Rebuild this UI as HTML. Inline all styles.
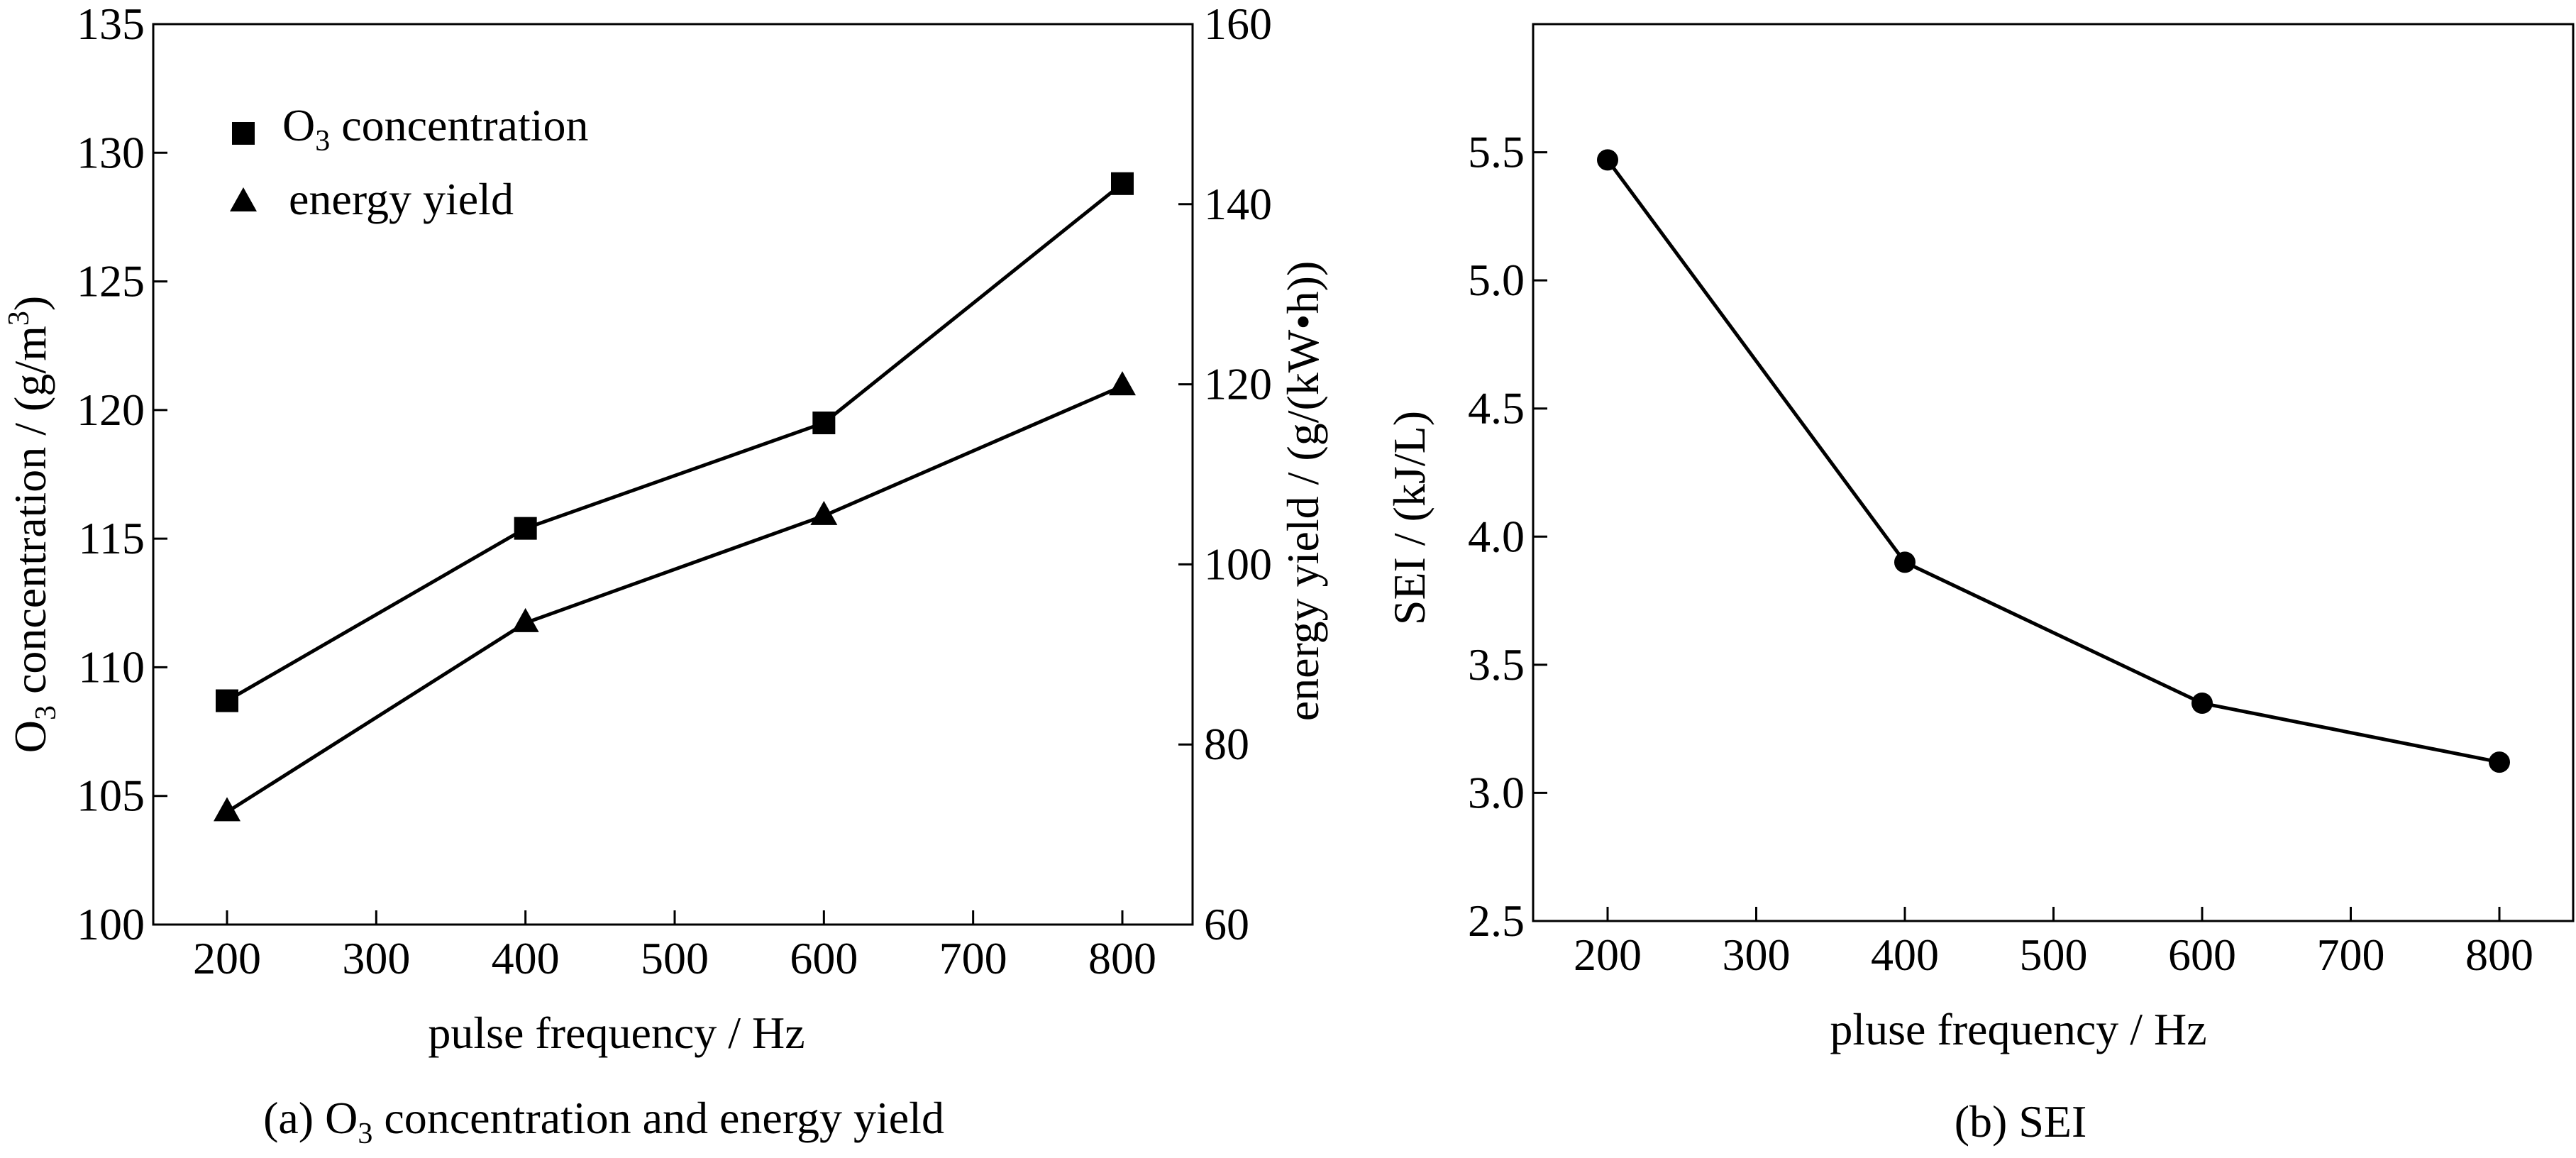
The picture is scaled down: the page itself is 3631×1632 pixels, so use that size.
<!DOCTYPE html>
<html><head><meta charset="utf-8"><style>
html,body{margin:0;padding:0;background:#fff;}
svg{display:block;font-family:"Liberation Serif",serif;}
</style></head><body>
<svg id="svg" width="3631" height="1632" viewBox="0 0 3631 1632">
<g id="a"></g>
<g id="b"></g>
</svg>
<script>
const freqs = [200, 400, 600, 800];
const o3Values = [108.7, 115.4, 119.5, 128.8];
const yieldValues = [72.5, 93.5, 105.4, 119.8];
const seiValues = [5.47, 3.90, 3.35, 3.12];
const xTicks = [200, 300, 400, 500, 600, 700, 800];
const o3Ticks = [100, 105, 110, 115, 120, 125, 130, 135];
const yieldTicks = [60, 80, 100, 120, 140, 160];
const seiTicks = ["2.5", "3.0", "3.5", "4.0", "4.5", "5.0", "5.5"];

const NS = "http://www.w3.org/2000/svg";
function el(parent, tag, attrs, text) {
  const e = document.createElementNS(NS, tag);
  for (const k in attrs) e.setAttribute(k, attrs[k]);
  if (text !== undefined) e.textContent = text;
  parent.appendChild(e);
  return e;
}
function lin(d0, d1, r0, r1) { return v => r0 + (v - d0) * (r1 - r0) / (d1 - d0); }

// ---------- Chart A ----------
const A = document.getElementById('a');
const aL = 216, aR = 1681, aT = 34, aB = 1303;
const ax = lin(200, 800, 320, 1582);
const ayL = lin(100, 135, aB, aT);
const ayR = lin(60, 160, aB, aT);
let r = el(A, 'rect', {x: aL, y: aT, width: aR - aL, height: aB - aT, fill: 'none', stroke: '#000', 'stroke-width': 3});


xTicks.forEach(v => {
  const t = el(A, 'line', {x1: ax(v), x2: ax(v), y1: aB, y2: aB - 20, stroke: '#000', 'stroke-width': 3});
  
  
  const l = el(A, 'text', {x: ax(v), y: aB + 69, 'font-size': 64, 'text-anchor': 'middle'}, v);
  
  
});
o3Ticks.forEach(v => {
  const t = el(A, 'line', {x1: aL, x2: aL + 20, y1: ayL(v), y2: ayL(v), stroke: '#000', 'stroke-width': 3});
  
  
  const l = el(A, 'text', {x: aL - 12, y: ayL(v) + 21, 'font-size': 64, 'text-anchor': 'end'}, v);
  
  
});
yieldTicks.forEach(v => {
  const t = el(A, 'line', {x1: aR, x2: aR - 20, y1: ayR(v), y2: ayR(v), stroke: '#000', 'stroke-width': 3});
  
  
  const l = el(A, 'text', {x: aR + 16, y: ayR(v) + 21, 'font-size': 64, 'text-anchor': 'start'}, v);
  
  
});
let p = el(A, 'polyline', {points: freqs.map((f, i) => ax(f) + ',' + ayL(o3Values[i])).join(' '), fill: 'none', stroke: '#000', 'stroke-width': 5});


p = el(A, 'polyline', {points: freqs.map((f, i) => ax(f) + ',' + ayR(yieldValues[i])).join(' '), fill: 'none', stroke: '#000', 'stroke-width': 5});


freqs.forEach((f, i) => {
  const s = el(A, 'rect', {x: ax(f) - 16, y: ayL(o3Values[i]) - 16, width: 32, height: 32, fill: '#000'});
  
  
  const cx = ax(f), cy = ayR(yieldValues[i]);
  const tr = el(A, 'polygon', {points: `${cx},${cy - 21} ${cx - 19},${cy + 13} ${cx + 19},${cy + 13}`, fill: '#000'});
  
  
});
</script>
<script>
(function(){
const A = document.getElementById('a');
A.insertAdjacentHTML('beforeend', `
<rect x="327" y="172" width="32" height="32" fill="#000"/>
<text x="398" y="198" font-size="64">O<tspan font-size="42" dy="14">3</tspan><tspan dy="-14"> concentration</tspan></text>
<polygon points="343,264 324,298 362,298" fill="#000"/>
<text x="407" y="302" font-size="64">energy yield</text>
<text x="869" y="1477" font-size="64" text-anchor="middle">pulse frequency / Hz</text>
<text x="851" y="1597" font-size="64" text-anchor="middle">(a) O<tspan font-size="42" dy="14">3</tspan><tspan dy="-14"> concentration and energy yield</tspan></text>
<text transform="translate(64,739) rotate(-90)" font-size="64" text-anchor="middle">O<tspan font-size="42" dy="14">3</tspan><tspan dy="-14"> concentration / (g/m</tspan><tspan font-size="42" dy="-24">3</tspan><tspan dy="24">)</tspan></text>
<text transform="translate(1858,692) rotate(-90)" font-size="64" text-anchor="middle">energy yield / (g/(kW•h))</text>
`);
})();
</script>
<script>
// ---------- Chart B ----------
const B = document.getElementById('b');
const bL = 2161, bR = 3627, bT = 34, bB = 1298;
const bx = lin(200, 800, 2266, 3523);
const by = lin(2.5, 6.0, bB, bT);
let fr = el(B, 'rect', {x: bL, y: bT, width: bR - bL, height: bB - bT, fill: 'none', stroke: '#000', 'stroke-width': 3});


xTicks.forEach(v => {
  const t = el(B, 'line', {x1: bx(v), x2: bx(v), y1: bB, y2: bB - 20, stroke: '#000', 'stroke-width': 3});
  
  
  const l = el(B, 'text', {x: bx(v), y: bB + 69, 'font-size': 64, 'text-anchor': 'middle'}, v);
  
  
});
seiTicks.forEach(v => {
  const y = by(parseFloat(v));
  const t = el(B, 'line', {x1: bL, x2: bL + 20, y1: y, y2: y, stroke: '#000', 'stroke-width': 3});
  
  
  const l = el(B, 'text', {x: bL - 12, y: y + 21, 'font-size': 64, 'text-anchor': 'end'}, v);
  
  
});
const sl = el(B, 'polyline', {points: freqs.map((f, i) => bx(f) + ',' + by(seiValues[i])).join(' '), fill: 'none', stroke: '#000', 'stroke-width': 5});


freqs.forEach((f, i) => {
  const c = el(B, 'circle', {cx: bx(f), cy: by(seiValues[i]), r: 15, fill: '#000'});
  
  
});
B.insertAdjacentHTML('beforeend', `
<text transform="translate(2008,730) rotate(-90)" font-size="64" text-anchor="middle">SEI / (kJ/L)</text>
<text x="2845" y="1472" font-size="64" text-anchor="middle">pluse frequency / Hz</text>
<text x="2848" y="1602" font-size="64" text-anchor="middle">(b) SEI</text>
`);
</script>
</body></html>
